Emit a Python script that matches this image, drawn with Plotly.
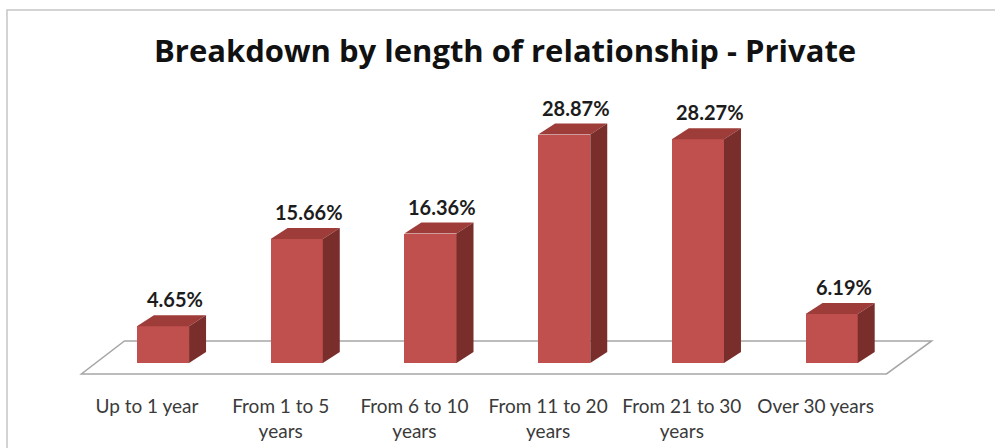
import plotly.graph_objects as go

categories = ["Up to 1 year", "From 1 to 5<br>years", "From 6 to 10<br>years",
              "From 11 to 20<br>years", "From 21 to 30<br>years", "Over 30 years"]
values = [4.65, 15.66, 16.36, 28.87, 28.27, 6.19]
value_labels = ["4.65%", "15.66%", "16.36%", "28.87%", "28.27%", "6.19%"]
title_text = "Breakdown by length of relationship - Private"

FRONT = "#C0504D"
TOP = "#9E3C39"
SIDE = "#7A2E2C"

xs = list(range(len(values)))
half_w = 0.195      # half bar width (category units)
dx, dy = 0.127, 1.39  # 3D depth offset (x units, y units)

fig = go.Figure()
fig.add_trace(go.Bar(x=xs, y=values, width=2 * half_w, marker=dict(color=FRONT, line=dict(width=0)),
                     hoverinfo="skip", showlegend=False))

shapes = []
# floor
fl, fr, bl, br = -0.61, 5.41, -0.288, 5.748
yf, yb = -1.39, 2.78
shapes.append(dict(type="path", xref="x", yref="y", layer="below",
                   path=f"M {fl},{yf} L {fr},{yf} L {br},{yb} L {bl},{yb} Z",
                   fillcolor="white", line=dict(color="#A6A6A6", width=1.5)))
# 3D faces computed from data
for x, v in zip(xs, values):
    shapes.append(dict(type="path", xref="x", yref="y", layer="above",
                       path=f"M {x-half_w},{v} L {x+half_w},{v} L {x+half_w+dx},{v+dy} L {x-half_w+dx},{v+dy} Z",
                       fillcolor=TOP, line=dict(width=0)))
    shapes.append(dict(type="path", xref="x", yref="y", layer="above",
                       path=f"M {x+half_w},0 L {x+half_w},{v} L {x+half_w+dx},{v+dy} L {x+half_w+dx},{dy} Z",
                       fillcolor=SIDE, line=dict(width=0)))
# outer frame
shapes.append(dict(type="rect", xref="paper", yref="paper", x0=-0.0547, x1=1.2, y0=-0.4, y1=1.281,
                   line=dict(color="#C6C6C6", width=1.5), layer="below"))

annotations = []
for x, v, t in zip(xs, values, value_labels):
    annotations.append(dict(x=x + 0.09, y=v + 3.4, xref="x", yref="y", text=t, showarrow=False,
                            yanchor="middle", xanchor="center",
                            font=dict(family="Lato", size=20, color="#1c1c1c", weight="bold")))
annotations.append(dict(x=0.501, y=1.146, xref="paper", yref="paper", text=title_text, showarrow=False,
                        xanchor="center", yanchor="middle",
                        font=dict(family="Open Sans", size=31, color="#111111", weight="bold")))

fig.update_layout(
    width=995, height=448,
    margin=dict(l=56, r=43, t=94, b=55),
    paper_bgcolor="white", plot_bgcolor="white",
    shapes=shapes, annotations=annotations,
    xaxis=dict(range=[-0.8, 5.9], showgrid=False, zeroline=False, showline=False, automargin=False,
               tickvals=[x - 0.12 for x in xs], ticktext=categories, ticks="",
               tickfont=dict(family="Lato", size=19, color="#3a3a3a"), ticklabelstandoff=0),
    yaxis=dict(range=[-3.8, 34], showgrid=False, zeroline=False, showline=False, showticklabels=False,
               automargin=False),
    bargap=0,
)

fig.write_html("out.html")
